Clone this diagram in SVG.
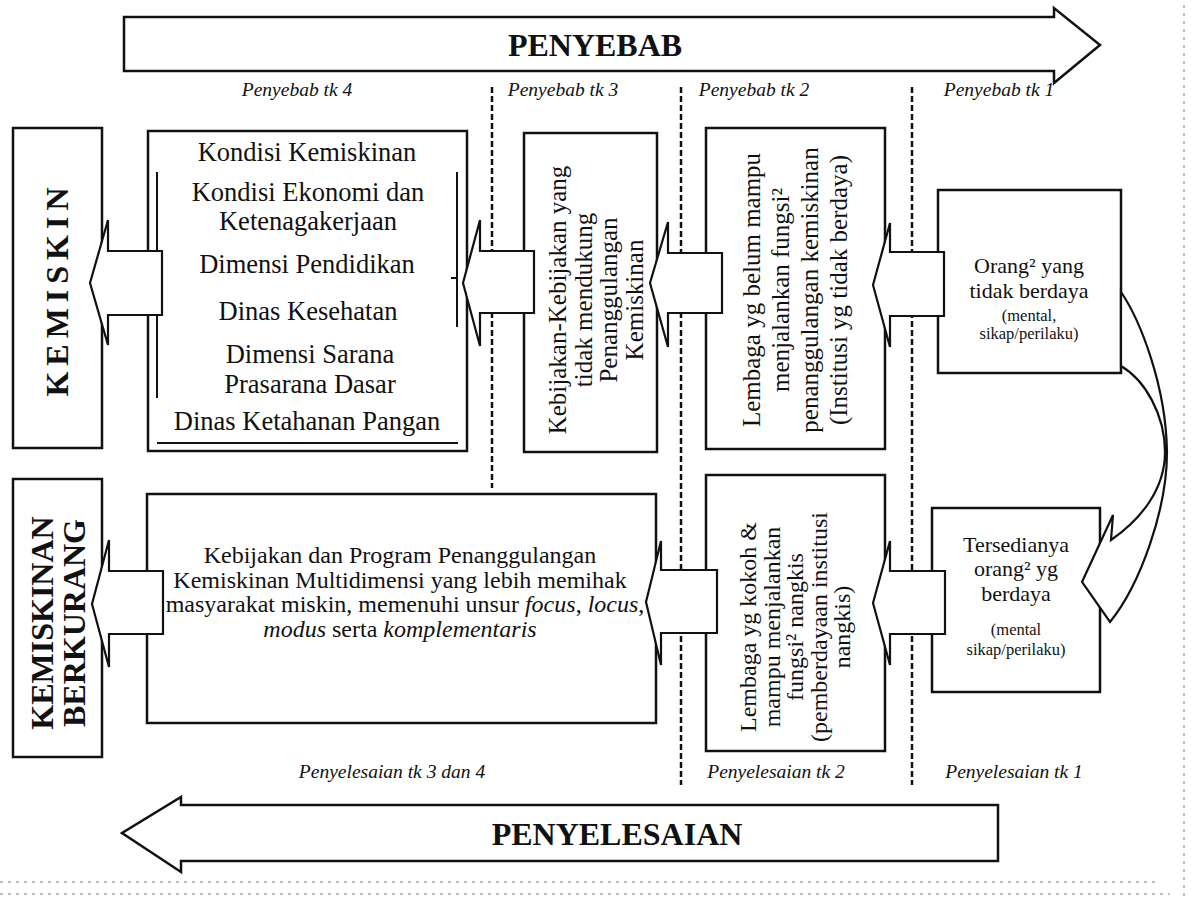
<svg xmlns="http://www.w3.org/2000/svg" width="1199" height="921" viewBox="0 0 1199 921">
<style>
.box{fill:#fff;stroke:#111;stroke-width:2.5}
.ln{fill:none;stroke:#111;stroke-width:2}
.arr{fill:#fff;stroke:#111;stroke-width:2.2;stroke-linejoin:miter}
.dash{fill:none;stroke:#111;stroke-width:2.5;stroke-dasharray:6 3}
.t{font-family:"Liberation Serif","Times New Roman",serif;fill:#111}
.lbl{font-style:italic;font-size:19.5px}
.big{font-size:26.5px}
.rot{font-size:25px}
.ttl{font-weight:bold;font-size:32px}
.sm{font-size:16.5px}
.mid{font-size:22px}
.noise{fill:none;stroke:#aaa;stroke-width:1.5;stroke-dasharray:3 5}
</style>
<rect width="1199" height="921" fill="#fff"/>

<g id="scan-noise">
<line class="noise" x1="0" y1="882" x2="1160" y2="882"/>
<line class="noise" x1="0" y1="894" x2="1170" y2="894"/>
<line class="noise" x1="1184" y1="5" x2="1184" y2="900"/>
</g>

<g id="arrow-penyebab">
<path class="box" d="M124,17 L1054,17 L1054,8 L1100,45 L1054,83 L1054,71 L124,71 Z"/>
<text class="t ttl" x="595" y="56" text-anchor="middle">PENYEBAB</text>
</g>

<g id="arrow-penyelesaian">
<path class="box" d="M998,805 L181,805 L181,797 L122,833 L181,872 L181,861 L998,861 Z"/>
<text class="t ttl" x="617" y="845" text-anchor="middle">PENYELESAIAN</text>
</g>

<g id="separators">
<line class="dash" x1="492" y1="87" x2="492" y2="488"/>
<line class="dash" x1="681" y1="87" x2="681" y2="785"/>
<line class="dash" x1="912" y1="87" x2="912" y2="785"/>
</g>

<g id="labels" class="t lbl" text-anchor="middle">
<text x="297" y="96">Penyebab tk 4</text>
<text x="563" y="96">Penyebab tk 3</text>
<text x="754" y="96">Penyebab tk 2</text>
<text x="999" y="96">Penyebab tk 1</text>
<text x="392" y="778">Penyelesaian tk 3 dan 4</text>
<text x="776" y="778">Penyelesaian tk 2</text>
<text x="1014" y="778">Penyelesaian tk 1</text>
</g>

<g id="node-kemiskin">
<rect class="box" x="13" y="128" width="89" height="320"/>
<text class="t ttl" transform="translate(0,292) rotate(-90)" x="3" y="68" text-anchor="middle" letter-spacing="6">KEMISKIN</text>
</g>

<g id="node-kondisi">
<rect class="box" x="148" y="131" width="319" height="320"/>
<line class="ln" x1="157" y1="172" x2="157" y2="398"/>
<line class="ln" x1="457" y1="172" x2="457" y2="327"/>
<line class="ln" x1="451" y1="278" x2="457" y2="278"/>
<line class="ln" x1="157" y1="443" x2="458" y2="443"/>
<g class="t big" text-anchor="middle">
<text x="307" y="161">Kondisi Kemiskinan</text>
<text x="308" y="201">Kondisi Ekonomi dan</text>
<text x="308" y="230">Ketenagakerjaan</text>
<text x="307" y="273">Dimensi Pendidikan</text>
<text x="308" y="320">Dinas Kesehatan</text>
<text x="310" y="363">Dimensi Sarana</text>
<text x="310" y="393">Prasarana Dasar</text>
<text x="307" y="430">Dinas Ketahanan Pangan</text>
</g>
</g>

<g id="node-kebijakan">
<rect class="box" x="524" y="133" width="133" height="319"/>
<g class="t rot" transform="translate(0,300) rotate(-90)" text-anchor="middle">
<text x="0" y="566">Kebijakan-Kebijakan yang</text>
<text x="0" y="591.5">tidak mendukung</text>
<text x="0" y="617">Penanggulangan</text>
<text x="0" y="642.5">Kemiskinan</text>
</g>
</g>

<g id="node-lembaga-lemah">
<rect class="box" x="706" y="128" width="179" height="321"/>
<g class="t rot" transform="translate(0,290) rotate(-90)" text-anchor="middle">
<text x="0" y="760">Lembaga yg belum mampu</text>
<text x="0" y="789">menjalankan fungsi²</text>
<text x="0" y="818">penanggulangan kemiskinan</text>
<text x="0" y="847">(Institusi yg tidak berdaya)</text>
</g>
</g>

<g id="node-orang-tidak-berdaya">
<rect class="box" x="938" y="190" width="183" height="183"/>
<g class="t" text-anchor="middle">
<text class="mid" x="1029" y="273">Orang² yang</text>
<text class="mid" x="1029" y="298">tidak berdaya</text>
<text class="sm" x="1029" y="321">(mental,</text>
<text class="sm" x="1029" y="339">sikap/perilaku)</text>
</g>
</g>

<g id="node-kemiskinan-berkurang">
<rect class="box" x="13" y="479" width="89" height="278"/>
<g class="t ttl" transform="translate(0,623) rotate(-90)" text-anchor="middle">
<text x="0" y="53">KEMISKINAN</text>
<text x="0" y="85">BERKURANG</text>
</g>
</g>

<g id="node-program">
<rect class="box" x="147" y="494" width="509" height="229"/>
<g class="t" font-size="24" text-anchor="middle">
<text x="400" y="563">Kebijakan dan Program Penanggulangan</text>
<text x="400" y="588">Kemiskinan Multidimensi yang lebih memihak</text>
<text x="405" y="612">masyarakat miskin, memenuhi unsur <tspan font-style="italic">focus</tspan>, <tspan font-style="italic">locus</tspan>,</text>
<text x="400" y="637"><tspan font-style="italic">modus</tspan> serta <tspan font-style="italic">komplementaris</tspan></text>
</g>
</g>

<g id="node-lembaga-kokoh">
<rect class="box" x="706" y="475" width="179" height="276"/>
<g class="t" font-size="24" transform="translate(0,627) rotate(-90)" text-anchor="middle">
<text x="0" y="756">Lembaga yg kokoh &amp;</text>
<text x="0" y="779.5">mampu menjalankan</text>
<text x="0" y="803">fungsi² nangkis</text>
<text x="0" y="826.5">(pemberdayaan institusi</text>
<text x="0" y="850">nangkis)</text>
</g>
</g>

<g id="node-orang-berdaya">
<rect class="box" x="932" y="508" width="168" height="184"/>
<g class="t" text-anchor="middle">
<text class="mid" x="1016" y="552">Tersedianya</text>
<text class="mid" x="1016" y="576">orang² yg</text>
<text class="mid" x="1016" y="601">berdaya</text>
<text class="sm" x="1016" y="635">(mental</text>
<text class="sm" x="1016" y="655">sikap/perilaku)</text>
</g>
</g>

<g id="connectors">
<path class="arr" d="M162,251 L108,251 L108,220 L90,283 L108,345 L108,315 L162,315 Z"/>
<path class="arr" d="M534,251 L480,251 L480,220 L463,283 L480,346 L480,313 L534,313 Z"/>
<path class="arr" d="M722,253 L668,253 L668,222 L650,283 L668,347 L668,313 L722,313 Z"/>
<path class="arr" d="M944,252 L890,252 L890,223 L873,285 L890,347 L890,316 L944,316 Z"/>
<path class="arr" d="M163,571 L109,571 L109,540 L92,604 L109,667 L109,634 L163,634 Z"/>
<path class="arr" d="M717,570 L661,570 L661,541 L646,602 L661,665 L661,633 L717,633 Z"/>
<path class="arr" d="M945,571 L890,571 L890,541 L873,603 L890,665 L890,634 L945,634 Z"/>
<path class="arr" d="M1121,292 C1140,320 1166,385 1167,452 C1167,510 1140,585 1110,622 L1082,582 L1113,515 L1111,540 C1140,520 1165,490 1165,452 C1165,415 1145,380 1121,366 Z"/>
</g>
</svg>
